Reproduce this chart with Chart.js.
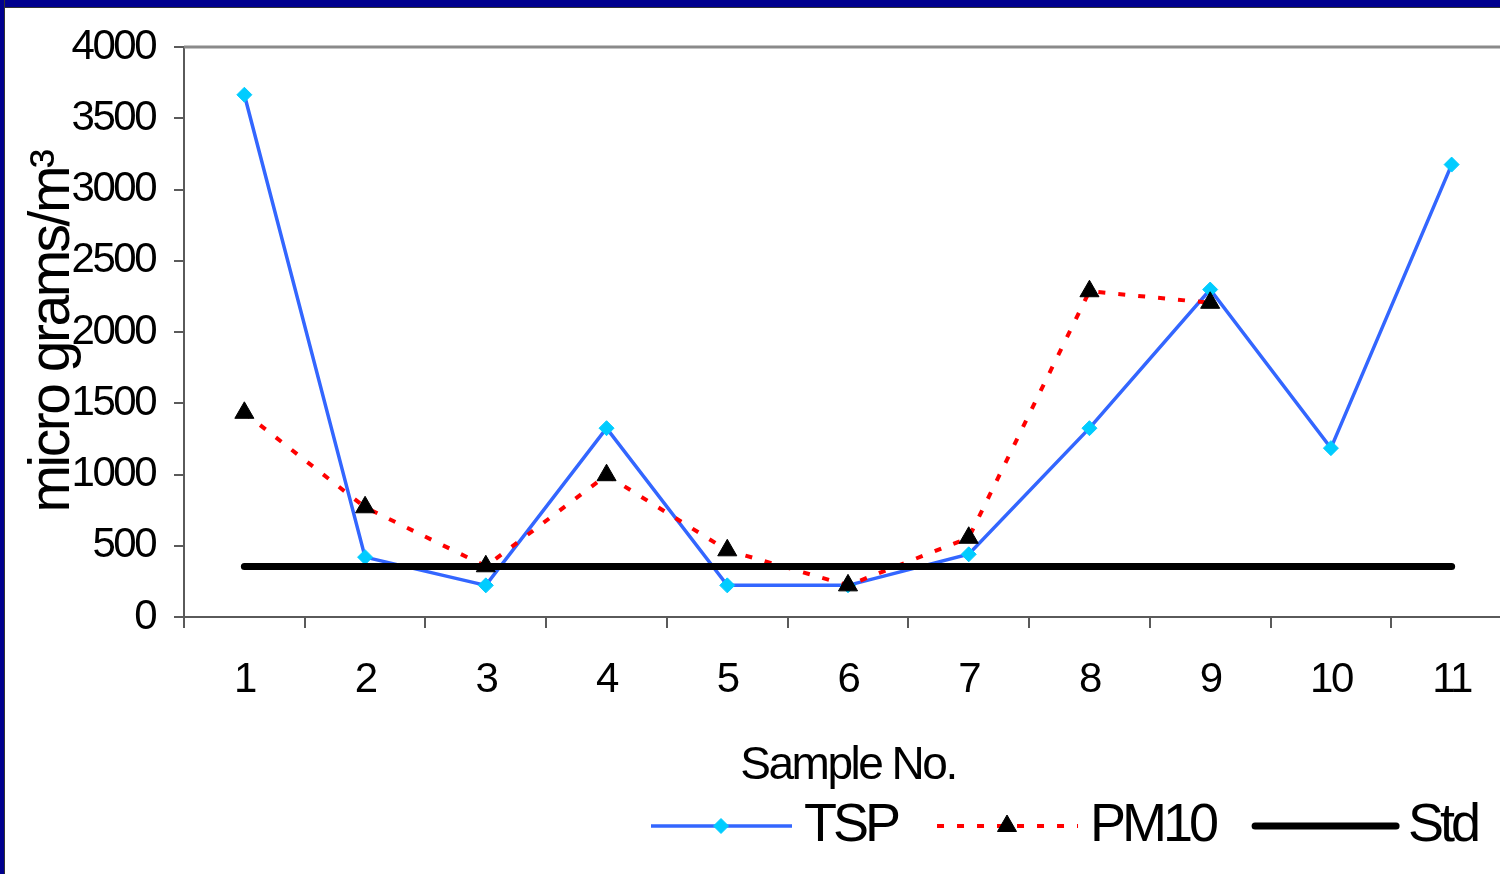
<!DOCTYPE html>
<html>
<head>
<meta charset="utf-8">
<script src="https://cdn.jsdelivr.net/npm/chart.js@4/dist/chart.umd.min.js"></script>
<style>
  body { margin: 0; background: #fff; overflow: hidden; }
  #wrap { position: relative; width: 1500px; height: 874px; overflow: hidden; background: #fff; }
  #chart { position: absolute; left: 0; top: 0; }
  .edge { position: absolute; background: #00008e; }
</style>
</head>
<body>
<div id="wrap">
  <canvas id="chart" width="1524" height="874"></canvas>
  <div class="edge" style="left:0;top:0;width:1500px;height:7px;border-bottom:1px solid #333;"></div>
  <div class="edge" style="left:0;top:0;width:4px;height:874px;border-right:1px solid #333;"></div>
</div>
<script>
// sample numbers on the x axis
const samples = ['1', '2', '3', '4', '5', '6', '7', '8', '9', '10', '11'];

// micro grams/m3
const tspValues = [3665, 420, 222, 1325, 222, 222, 440, 1325, 2298, 1185, 3175];
const pm10Values = [1433, 770, 356, 995, 468, 222, 556, 2286, 2205, null, null];
const stdValues = [355, 355, 355, 355, 355, 355, 355, 355, 355, 355, 355];

const yTicks = [0, 500, 1000, 1500, 2000, 2500, 3000, 3500, 4000];

const FONT = '"Liberation Sans", Arial, sans-serif';
const AXIS_GREY = '#5a5a5a';

// Excel-ish text is squeezed together, chart.js never touches letterSpacing so set it once
const tightText = {
    id: 'tightText',
    beforeDraw: (chart) => {
        chart.ctx.letterSpacing = '-2.5px';
    }
};

// grey frame line on top of the plot area
const plotFrame = {
    id: 'plotFrame',
    beforeDatasetsDraw: (chart) => {
        const { ctx, chartArea } = chart;
        ctx.save();
        ctx.strokeStyle = '#8a8a8a';
        ctx.lineWidth = 3;
        ctx.beginPath();
        ctx.moveTo(chartArea.left, chartArea.top);
        ctx.lineTo(chartArea.right, chartArea.top);
        ctx.stroke();
        ctx.restore();
    }
};

// legend with line + marker samples like the original
const lineLegend = {
    id: 'lineLegend',
    afterDraw: (chart) => {
        const ctx = chart.ctx;
        const y = 826;
        let x = 651;
        ctx.save();
        ctx.font = '54px ' + FONT;
        ctx.letterSpacing = '-4px';
        ctx.textBaseline = 'middle';
        chart.data.datasets.forEach(ds => {
            ctx.beginPath();
            ctx.setLineDash(ds.borderDash || []);
            ctx.lineWidth = ds.borderWidth;
            ctx.strokeStyle = ds.borderColor;
            ctx.lineCap = ds.borderCapStyle || 'butt';
            ctx.moveTo(x, y);
            ctx.lineTo(x + 141, y);
            ctx.stroke();
            ctx.setLineDash([]);
            if (ds.pointRadius > 0) {
                ctx.fillStyle = ds.pointBackgroundColor;
                ctx.strokeStyle = ds.pointBorderColor;
                ctx.lineWidth = 1;
                Chart.helpers.drawPoint(ctx, {
                    pointStyle: ds.pointStyle,
                    radius: ds.pointRadius,
                    borderWidth: 1,
                    rotation: 0
                }, x + 70, y);
            }
            ctx.fillStyle = '#000';
            ctx.fillText(ds.label, x + 153, y);
            x += 153 + ctx.measureText(ds.label).width + 40;
        });
        ctx.restore();
    }
};

const ctx = document.getElementById('chart').getContext('2d');

new Chart(ctx, {
    type: 'line',
    data: {
        labels: samples,
        datasets: [{
            label: 'TSP',
            data: tspValues,
            borderColor: '#3366ff',
            borderWidth: 3.5,
            pointStyle: 'rectRot',
            pointRadius: 7.5,
            pointBackgroundColor: '#00ccff',
            pointBorderColor: '#00ccff',
            pointBorderWidth: 1,
            tension: 0,
            order: 2
        }, {
            label: 'PM10',
            data: pm10Values,
            borderColor: '#ff0000',
            borderWidth: 4,
            borderDash: [7, 13],
            pointStyle: 'triangle',
            pointRadius: 11,
            pointBackgroundColor: '#000000',
            pointBorderColor: '#000000',
            pointBorderWidth: 1,
            tension: 0,
            spanGaps: false,
            order: 1
        }, {
            label: 'Std',
            data: stdValues,
            borderColor: '#000000',
            borderWidth: 7,
            borderCapStyle: 'round',
            pointRadius: 0,
            tension: 0,
            order: 0
        }]
    },
    options: {
        responsive: false,
        animation: false,
        devicePixelRatio: 1,
        layout: {
            padding: { top: 47, right: 7, bottom: 77, left: 0 }
        },
        scales: {
            x: {
                type: 'category',
                offset: true,
                afterFit: (scale) => { scale.height = 180; },
                grid: {
                    offset: true,
                    drawOnChartArea: false,
                    drawTicks: true,
                    tickLength: 11,
                    color: AXIS_GREY,
                    tickColor: AXIS_GREY,
                    lineWidth: 2
                },
                border: { display: true, color: AXIS_GREY, width: 2 },
                ticks: {
                    color: '#000',
                    font: { family: FONT, size: 42 },
                    padding: 27,
                    maxRotation: 0,
                    autoSkip: false
                },
                title: {
                    display: true,
                    text: 'Sample No.',
                    color: '#000',
                    font: { family: FONT, size: 46 },
                    padding: { top: 0, bottom: 3 }
                }
            },
            y: {
                min: 0,
                max: 4000,
                afterFit: (scale) => { scale.width = 184; },
                afterBuildTicks: (scale) => {
                    scale.ticks = yTicks.map(v => ({ value: v }));
                },
                grid: {
                    drawOnChartArea: false,
                    drawTicks: true,
                    tickLength: 10,
                    color: AXIS_GREY,
                    tickColor: AXIS_GREY,
                    lineWidth: 2
                },
                border: { display: true, color: AXIS_GREY, width: 2 },
                ticks: {
                    color: '#000',
                    font: { family: FONT, size: 42 },
                    padding: 19,
                    callback: (value) => String(value)
                },
                title: {
                    display: true,
                    text: 'micro grams/m³',
                    color: '#000',
                    font: { family: FONT, size: 57 },
                    padding: { top: 19, bottom: 0 }
                }
            }
        },
        plugins: {
            legend: { display: false },
            tooltip: { enabled: false }
        }
    },
    plugins: [tightText, plotFrame, lineLegend]
});
</script>
</body>
</html>
